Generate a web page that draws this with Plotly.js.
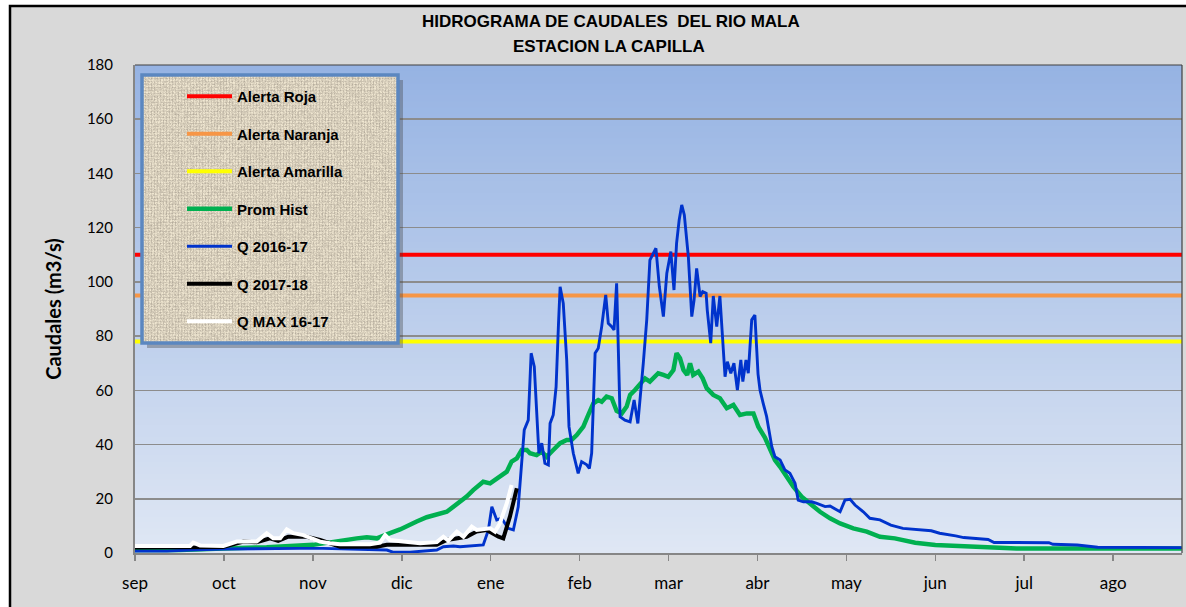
<!DOCTYPE html>
<html><head><meta charset="utf-8">
<script src="https://cdn.plot.ly/plotly-3.0.1.min.js"></script>
<style>html,body{margin:0;padding:0;background:#fff;}#chart{width:1186px;height:607px;}</style>
</head><body><div id="chart"></div>
<script>
// ---- data ----
const monthLabels = ['sep','oct','nov','dic','ene','feb','mar','abr','may','jun','jul','ago'];
const monthTickDays = [0,31,62,93,124,155,186,217,248,279,310,341];
const dayRange = [0, 365];

const alertaRoja = 110;
const alertaNaranja = 95;
const alertaAmarilla = 78;

const promHistDay = [0,15.7,30.7,45.9,62.2,69,77.3,80.8,84.3,88.9,92.4,98.2,101.7,108.7,112.7,115.6,117.9,121.4,123.8,127.2,129.6,131.3,133.1,134.8,136.6,137.7,140,141.8,143.5,145.8,148.2,150.5,152.2,154,156.3,158,159.8,161.5,162.7,164.4,166.2,167.9,169.7,171.4,172.6,174.3,176.6,177.8,179.5,181.3,182.4,184.2,185.9,187.7,188.8,190,191.2,192.5,193.5,194.6,196.4,197.9,199.3,201.6,203.9,206.3,208.6,210.9,213.3,215.6,217.3,219.6,221.4,223.1,224.9,227.2,229.5,232.4,235.3,238.8,242.3,245.8,250.4,255.1,259.7,264.9,272,279,293.2,307.3,364.9];
const promHistVal = [1.1,1.1,1.7,2.1,3.0,4.2,5.4,5.8,5.4,7.3,8.7,11.6,13.2,15.2,18.3,20.8,23.2,26.3,25.7,28.4,30,33.7,34.9,38,38,36.8,36.1,37.4,35.5,38,40.5,41.7,41.7,43.5,46.6,50.9,55.2,56.4,55.8,57.7,57.1,52.4,51.5,54,58.3,60.1,62.6,64.4,63.2,65,66.3,65.7,65,67.5,73.7,71.8,67.5,65.7,70,65.7,66.9,64.4,60.8,58.3,57.1,53.4,54.6,50.9,51.5,51.5,46.6,42.6,38,34.3,31.8,28.1,24.5,20.8,18.3,15.2,12.8,10.9,9.1,7.9,6.0,5.4,3.8,2.95,2.3,1.7,1.7];

const q1617Day = [0,11.1,19.2,30.7,57.5,65.5,87.8,89.9,95.9,105.2,107.5,111,113.3,119.1,121.4,123.2,124.4,126.1,127.8,130.1,131.9,133.6,134.8,135.7,137.1,138.1,139.2,140,140.8,141.8,142.9,144.1,144.7,145.8,146.8,147.6,148.2,149.3,150.5,151.3,152.8,154.5,155.7,157.5,158.4,159.2,160.4,161.5,162.7,164.1,165,166.2,167,167.9,169.1,170.8,172.6,174,175.3,177.2,178.4,179.5,181.6,182.8,184.2,185.4,186.8,187.9,188.8,189.7,190.6,191.5,192.9,194.1,194.9,195.8,197,197.9,199.1,199.5,200.7,201.6,202.8,203.9,205.7,206.5,207.7,208.8,210,211.2,211.9,213,213.8,215,216.1,217.2,217.9,219,220.2,220.8,222,223.1,224.9,226.6,228.3,230.1,231.2,233,235.9,237.7,240.6,242.3,245.8,247.5,249.3,251,253.9,256.2,259.7,263.5,267.7,277.6,280.5,286.1,288.9,297.4,299.5,318.6,320,328.5,335.6,364.9];
const q1617Val = [0.7,0.7,1.1,1.5,1.7,1.7,1.1,0.3,0.3,1.1,2.3,2.6,2.3,3.0,3.0,8.5,17.1,12.2,12.8,9.1,8.5,17,31.8,45.4,49,73.7,68.7,54,36.8,40.5,33.1,32.5,47.8,50.9,61.3,83.5,98.2,92.1,71.2,46.6,36.8,29.4,33.7,32.5,31.2,36.8,73.7,75.5,83.5,95.2,84.7,83.5,82.3,99.5,50.3,49,48.4,56.4,47.8,70,86,108,112.4,98.2,87.2,103.2,111.2,97,114.2,122.8,128.4,124.7,109.3,87.2,93.3,105,94.6,96.4,95.8,89.6,77.4,94.8,83.5,94.8,65,70.6,66.3,70,60.1,71.2,63.2,71.2,66.3,86,87.8,66,60,55.2,50.3,46.6,39.2,35.5,34.3,30.6,29.4,25.7,19.5,18.9,18.9,18.3,17.1,17.3,15.2,19.5,19.8,17.7,15.2,12.8,12.2,10.3,9.1,8.2,7.3,6.3,5.7,5.0,3.9,3.8,3.2,2.95,2.1,2.0];

const q1718Day = [0,19.2,30.7,37.8,42.4,47.1,49.9,53.4,59.9,64.5,71.5,84.3,87.8,92.4,105.2,108.7,112.2,115.6,119.1,122.6,126.7,128.4,130.7,133.1];
const q1718Val = [2.0,2.0,2.2,4.2,4.0,5.4,4.5,6.0,6.0,4.8,2.3,2.3,3.0,3.0,3.0,4.8,5.5,6.0,7.9,8.5,6.0,5.4,13.4,23.9];

const qMaxDay = [0,19.2,20.3,22.7,30.8,35.5,42.4,45.9,48.2,50.6,52.9,55.2,58.7,61.6,64.5,68,71.5,81.9,85.4,87.2,88.9,93.5,99.4,105.2,107.5,109.2,112.2,114.5,117.4,119.1,121.4,123.8,125.5,127.2,129.6,131.3];
const qMaxVal = [2.6,2.6,3.8,2.8,2.6,4.2,4.2,7.3,5.4,5.4,8.7,7.3,6.6,5.4,4.2,3.6,3.2,3.2,3.8,6.6,4.8,4.2,3.6,4.0,6.0,4.6,7.9,6.0,9.7,8.5,8.7,9.1,7.9,10.9,18.3,25.1];

// ---- geometry helpers (layout only) ----
const W = 1186, H = 607;
const M = {l:135, r:4, t:65, b:54};
const pw = W - M.l - M.r, ph = H - M.t - M.b;
const px2x = p => (p - M.l) / pw;
const py2y = p => (H - M.b - p) / ph;

function hline(name, val, color, width, group){
  return {type:'scatter', mode:'lines', name:name, legendgroup:group,
    x:[dayRange[0], dayRange[1]], y:[val, val],
    line:{color:color, width:width}, hoverinfo:'skip'};
}
const traces = [
  hline('Alerta Roja', alertaRoja, '#ff0000', 4, 'g1'),
  hline('Alerta Naranja', alertaNaranja, '#f79646', 4, 'g2'),
  hline('Alerta Amarilla', alertaAmarilla, '#ffff00', 4, 'g3'),
  {type:'scatter', mode:'lines', name:'Prom Hist', legendgroup:'g4', x:promHistDay, y:promHistVal, line:{color:'#00b050', width:4.5}},
  {type:'scatter', mode:'lines', name:'Q 2016-17', legendgroup:'g5', x:q1617Day, y:q1617Val, line:{color:'#0033cc', width:2.9}},
  {type:'scatter', mode:'lines', name:'Q 2017-18', legendgroup:'g6', x:q1718Day, y:q1718Val, line:{color:'#000000', width:4}},
  {type:'scatter', mode:'lines', name:'Q MAX 16-17', legendgroup:'g7', x:qMaxDay, y:qMaxVal, line:{color:'#ffffff', width:4}}
];

const shapes = [];
shapes.push({type:'rect', xref:'paper', yref:'paper', x0:px2x(10), x1:1.2, y0:-0.3, y1:py2y(6),
  fillcolor:'#d9d9d9', line:{color:'#000000', width:2.5}, layer:'below'});
const N = 80;
const gradTop = [150,179,227], gradBot = [223,231,244];
for (let i=0;i<N;i++){
  const t = i/(N-1);
  const c = gradTop.map((v,k)=>Math.round(v + (gradBot[k]-v)*t));
  shapes.push({type:'rect', xref:'paper', yref:'paper', x0:0, x1:1,
    y1:1 - i/N, y0:Math.max(0, 1-(i+1)/N - 0.002),
    fillcolor:'rgb('+c.join(',')+')', line:{width:0}, layer:'below'});
}
shapes.push({type:'line', xref:'paper', yref:'paper', x0:0, x1:1, y0:1, y1:1, line:{color:'#404040', width:1.2}, layer:'above'});
shapes.push({type:'line', xref:'paper', yref:'paper', x0:1, x1:1, y0:0, y1:1, line:{color:'#404040', width:1.2}, layer:'above'});

const bx0 = 142, bx1 = 398, by0 = 75, by1 = 343;
shapes.push({type:'rect', xref:'paper', yref:'paper', x0:px2x(bx1), x1:px2x(bx1+5), y0:py2y(by1+5), y1:py2y(by0+5),
  fillcolor:'rgba(60,60,60,0.35)', line:{width:0}, layer:'above'});
shapes.push({type:'rect', xref:'paper', yref:'paper', x0:px2x(bx0+5), x1:px2x(bx1), y0:py2y(by1+5), y1:py2y(by1),
  fillcolor:'rgba(60,60,60,0.35)', line:{width:0}, layer:'above'});

// woven-cloth texture for the legend panel (decoration only)
const cv = document.createElement('canvas');
cv.width = bx1-bx0; cv.height = by1-by0;
const cx = cv.getContext('2d');
const img = cx.createImageData(cv.width, cv.height);
const base = [214,205,186];
for (let yy=0; yy<cv.height; yy++){
  for (let xx=0; xx<cv.width; xx++){
    const h = Math.sin(xx*12.9898 + yy*78.233) * 43758.5453;
    const n = (h - Math.floor(h)) - 0.5;
    const weave = ((xx % 3 === 0) ? -10 : 6) + ((yy % 3 === 0) ? -8 : 4);
    const d = weave + n*34;
    const o = (yy*cv.width + xx)*4;
    img.data[o]   = Math.max(0, Math.min(255, base[0]+d));
    img.data[o+1] = Math.max(0, Math.min(255, base[1]+d));
    img.data[o+2] = Math.max(0, Math.min(255, base[2]+d*0.9));
    img.data[o+3] = 255;
  }
}
cx.putImageData(img, 0, 0);
shapes.push({type:'rect', xref:'paper', yref:'paper', x0:px2x(bx0), x1:px2x(bx1), y0:py2y(by1), y1:py2y(by0),
  fillcolor:'rgba(0,0,0,0)', line:{color:'#5b87c0', width:3.5}, layer:'above'});

const images = [{source: cv.toDataURL(), xref:'paper', yref:'paper', x:px2x(bx0), y:py2y(by0),
  sizex:px2x(bx1)-px2x(bx0), sizey:py2y(by0)-py2y(by1), sizing:'stretch', xanchor:'left', yanchor:'top', layer:'above'}];

const layout = {
  width:W, height:H, margin:M,
  paper_bgcolor:'#ffffff', plot_bgcolor:'rgba(0,0,0,0)',
  showlegend:true,
  legend:{x:px2x(182), y:py2y(80), xanchor:'left', yanchor:'top', bgcolor:'rgba(0,0,0,0)', borderwidth:0,
    font:{family:'Liberation Sans, Arial, sans-serif', size:15, color:'#000', weight:'bold'}, tracegroupgap:15, itemwidth:45,
    traceorder:'grouped'},
  xaxis:{range:dayRange, tickmode:'array', tickvals:monthTickDays, ticktext:monthLabels,
    showgrid:false, zeroline:false, showline:true, linecolor:'#868686', linewidth:2,
    ticks:'outside', ticklen:6, tickcolor:'#868686', tickwidth:1.5, ticklabelstandoff:8,
    tickfont:{family:'Lato, sans-serif', size:17, color:'#000'}, fixedrange:true},
  yaxis:{range:[0,180], dtick:20, showgrid:true, gridcolor:'#8c8c8c', gridwidth:1.5,
    zeroline:false, showline:true, linecolor:'#868686', linewidth:2, ticks:'',
    ticklabelstandoff:17,
    tickfont:{family:'Lato, sans-serif', size:15, color:'#000'},
    title:{text:'<b>Caudales (m3/s)</b>', font:{family:'Lato, sans-serif', size:20, color:'#000'}, standoff:20}, fixedrange:true},
  shapes:shapes, images:images,
  annotations:[
    {xref:'paper', yref:'paper', x:px2x(611), y:py2y(21), xanchor:'center', yanchor:'middle', showarrow:false,
     text:'<b>HIDROGRAMA DE CAUDALES \u00a0DEL RIO MALA</b>', font:{family:'Liberation Sans, Arial, sans-serif', size:17, color:'#000'}},
    {xref:'paper', yref:'paper', x:px2x(609), y:py2y(46), xanchor:'center', yanchor:'middle', showarrow:false,
     text:'<b>ESTACION LA CAPILLA</b>', font:{family:'Liberation Sans, Arial, sans-serif', size:17, color:'#000'}}
  ]
};
Plotly.newPlot('chart', traces, layout, {displayModeBar:false, staticPlot:true});
</script></body></html>
